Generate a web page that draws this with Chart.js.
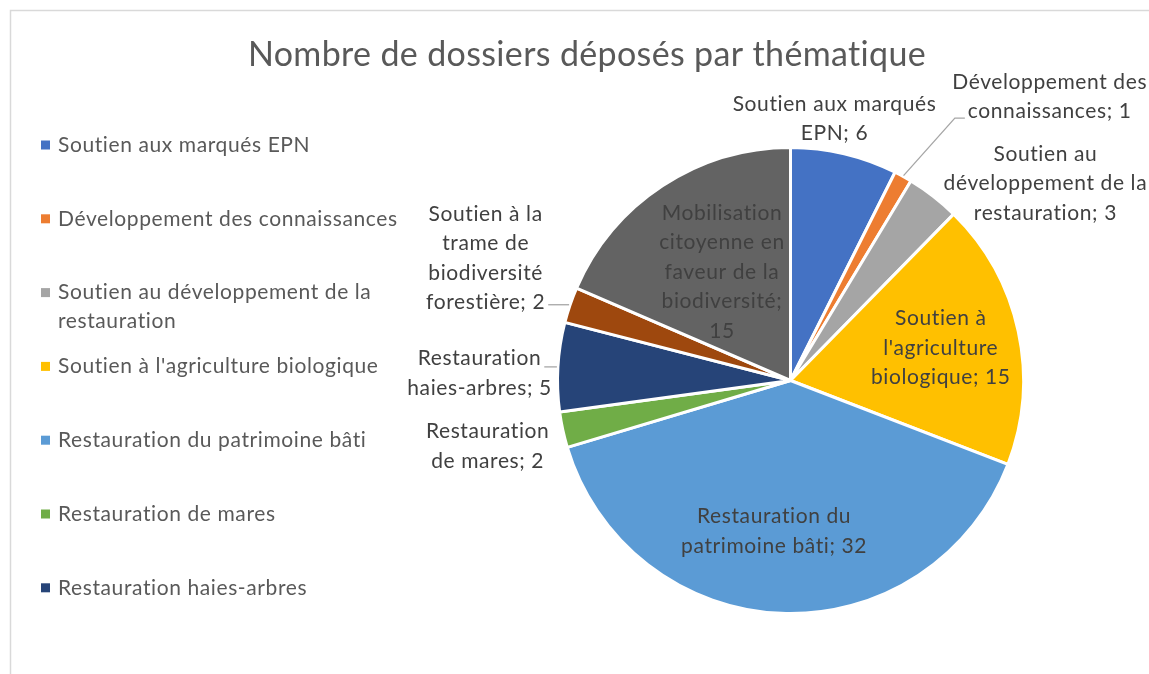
<!DOCTYPE html>
<html>
<head>
<meta charset="utf-8">
<script src="https://cdn.jsdelivr.net/npm/chart.js@4.4.1/dist/chart.umd.min.js"></script>
<style>
  html, body { margin: 0; padding: 0; background: #fff; }
  #wrap { position: relative; width: 1149px; height: 674px; }
</style>
</head>
<body>
<div id="wrap"><canvas id="myChart" width="1149" height="674"></canvas></div>
<script>
// data
const chartTitle = 'Nombre de dossiers déposés par thématique';
const categories = [
  'Soutien aux marqués EPN',
  'Développement des connaissances',
  'Soutien au développement de la restauration',
  "Soutien à l'agriculture biologique",
  'Restauration du patrimoine bâti',
  'Restauration de mares',
  'Restauration haies-arbres',
  'Soutien à la trame de biodiversité forestière',
  'Mobilisation citoyenne en faveur de la biodiversité'
];
const dossiers = [6, 1, 3, 15, 32, 2, 5, 2, 15];

// styles
const colors = ['#4472C4', '#ED7D31', '#A5A5A5', '#FFC000', '#5B9BD5', '#70AD47', '#264478', '#9E480E', '#636363'];
const FONT = 'Lato, "Noto Sans", sans-serif';
const textSize = 21;

// label placement: [distance as fraction of radius, angle shift in degrees, wrap width, leader]
const labelPlace = [
  [1.14, -3.8, 228, false],
  [1.65, 13.5, 202, true],
  [1.383, 14.5, 218, false],
  [0.66, 0, 162, false],
  [0.65, 4, 210, false],
  [1.33, 0, 138, false],
  [1.335, -2, 152, true],
  [1.41, 3, 142, true],
  [0.55, 1, 138, false]
];

function wrapText(ctx, text, maxW) {
  const words = text.split(' ');
  const lines = [];
  let cur = '';
  words.forEach(w => {
    const test = cur ? cur + ' ' + w : w;
    if (cur && ctx.measureText(test).width > maxW) {
      lines.push(cur);
      cur = w;
    } else {
      cur = test;
    }
  });
  if (cur) lines.push(cur);
  return lines;
}

const framePlugin = {
  id: 'frame',
  beforeDraw(chart) {
    const ctx = chart.ctx;
    ctx.save();
    ctx.fillStyle = '#fff';
    ctx.fillRect(0, 0, chart.width, chart.height);
    ctx.strokeStyle = '#d9d9d9';
    ctx.lineWidth = 1.5;
    ctx.beginPath();
    ctx.moveTo(10.5, chart.height);
    ctx.lineTo(10.5, 10.5);
    ctx.lineTo(chart.width, 10.5);
    ctx.stroke();

    // title
    ctx.fillStyle = '#595959';
    ctx.font = '34px ' + FONT;
    ctx.letterSpacing = '0.35px';
    ctx.textAlign = 'center';
    ctx.textBaseline = 'middle';
    ctx.fillText(chartTitle, 587, 55);

    // legend (clipped like the original: only what fits)
    ctx.font = textSize + 'px ' + FONT;
    ctx.letterSpacing = '0.6px';
    ctx.textAlign = 'left';
    categories.forEach((c, i) => {
      const y = 145 + i * 73.8;
      if (y > 620) return;
      ctx.fillStyle = colors[i];
      ctx.fillRect(41, y - 4.5, 9, 9);
      ctx.fillStyle = '#595959';
      wrapText(ctx, c, 345).forEach((ln, j) => ctx.fillText(ln, 58, y + j * 28.5));
    });
    ctx.restore();
  }
};

const labelPlugin = {
  id: 'sliceLabels',
  afterDatasetsDraw(chart) {
    const ctx = chart.ctx;
    const meta = chart.getDatasetMeta(0);
    ctx.save();
    ctx.font = textSize + 'px ' + FONT;
    ctx.letterSpacing = '0.6px';
    ctx.textBaseline = 'middle';
    ctx.textAlign = 'center';
    const lh = 29.5;
    meta.data.forEach((arc, i) => {
      const p = arc.getProps(['x', 'y', 'startAngle', 'endAngle', 'outerRadius']);
      const [k, shift, ww, leader] = labelPlace[i];
      const mid = (p.startAngle + p.endAngle) / 2;
      const a = mid + shift * Math.PI / 180;
      const cx = p.x + Math.cos(a) * p.outerRadius * k;
      const cy = p.y + Math.sin(a) * p.outerRadius * k;
      const lines = wrapText(ctx, categories[i] + '; ' + dossiers[i], ww);
      const top = cy - (lines.length * lh) / 2;
      if (leader) {
        const ex = p.x + Math.cos(mid) * (p.outerRadius + 1);
        const ey = p.y + Math.sin(mid) * (p.outerRadius + 1);
        const bottom = top + lines.length * lh;
        const ly = Math.min(Math.max(ey, top + 8), bottom - 8);
        const li = Math.min(lines.length - 1, Math.max(0, Math.floor((ly - top) / lh)));
        const hw = ctx.measureText(lines[li]).width / 2;
        const right = cx < p.x;
        const endX = right ? cx + hw + 3 : cx - hw - 3;
        const elbowX = right ? endX + 8 : endX - 10;
        ctx.strokeStyle = '#a6a6a6';
        ctx.lineWidth = 1.3;
        ctx.beginPath();
        ctx.moveTo(ex, ey);
        ctx.lineTo(elbowX, ly);
        ctx.lineTo(endX, ly);
        ctx.stroke();
      }
      ctx.fillStyle = '#404040';
      lines.forEach((ln, j) => ctx.fillText(ln, cx, top + lh * (j + 0.5)));
    });
    ctx.restore();
  }
};

new Chart(document.getElementById('myChart'), {
  type: 'pie',
  data: {
    labels: categories,
    datasets: [{
      data: dossiers,
      backgroundColor: colors,
      borderColor: '#ffffff',
      borderWidth: 3
    }]
  },
  options: {
    responsive: false,
    animation: false,
    layout: { padding: { left: 556, right: 124, top: 146, bottom: 59 } },
    plugins: {
      legend: { display: false },
      title: { display: false },
      tooltip: { enabled: false }
    }
  },
  plugins: [framePlugin, labelPlugin]
});
</script>
</body>
</html>
